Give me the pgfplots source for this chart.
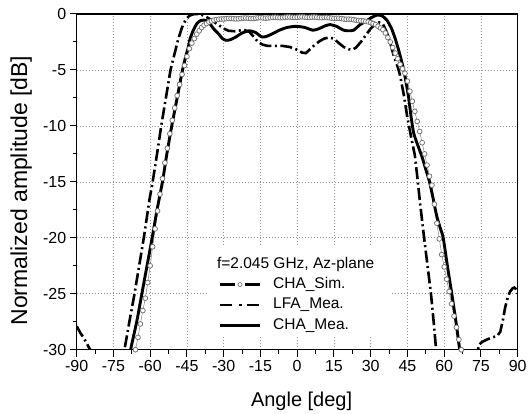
\documentclass[border=0pt]{standalone}
\usepackage{pgfplots}
\pgfplotsset{compat=1.18}
\usepackage{fontspec}
\setmainfont{Liberation Sans}
\begin{document}
\begin{tikzpicture}
\begin{axis}[
  scale only axis, width=441pt, height=335.7pt,
  xmin=-90, xmax=90, ymin=-30, ymax=0,
  xtick={-90,-75,...,90}, ytick={-30,-25,...,0},
  minor x tick num=1, minor y tick num=1,
  tick pos=left, tick align=outside,
  major tick length=7pt, minor tick length=4pt,
  tick style={black, line width=1pt},
  grid=major, grid style={dash pattern=on 1pt off 2pt, gray!85, line width=0.6pt},
  axis line style={black, line width=1.2pt},
  /pgf/number format/assume math mode=true,
  ticklabel style={font=\fontsize{16}{19}\selectfont},
  xlabel={Angle [deg]}, ylabel={Normalized amplitude [dB]},
  xlabel style={font=\fontsize{20}{24}\selectfont, at={(axis description cs:0.51,-0.168)}, anchor=base},
  ylabel style={font=\fontsize{23}{27}\selectfont, at={(axis description cs:-0.126,0.474)}, anchor=center},
  legend style={at={(axis cs:-32.1,-23.26)}, anchor=north west, draw=none, fill=none,
    inner sep=0pt, outer sep=0pt, row sep=0pt, column sep=11.7pt,
    font=\fontsize{15.5}{18}\selectfont,
    nodes={inner sep=0pt, text height=14pt, text depth=6.5pt}},
  legend cell align=left,
]
\coordinate (O) at (rel axis cs:0,0);
\fill[white] (axis cs:-36.3,-20.6) rectangle (axis cs:38.8,-28.7);

% CHA_Sim.
\addplot[black!50, line width=0.5pt, mark=*, mark size=2.4pt,
  mark options={fill=white, draw=black!55, line width=0.75pt},
  legend image code/.code={
    \draw[black, line width=2.6pt] (0pt,0pt) -- (15pt,0pt);
    \draw[black, line width=2.6pt] (25pt,0pt) -- (40pt,0pt);
    \draw[black!55, fill=white, line width=0.7pt] (20pt,0pt) circle (2pt);}]
table {
-66 -30.0
-65 -28.9
-64 -27.7
-63 -26.5
-62 -25.4
-61 -24.0
-60 -22.5
-59 -20.8
-58 -19.2
-57 -17.6
-56 -16.1
-55 -14.7
-54 -13.3
-53 -12.0
-52 -10.7
-51 -9.5
-50 -8.4
-49 -7.3
-48 -6.3
-47 -5.4
-46 -4.6
-45 -3.8
-44 -3.1
-43 -2.6
-42 -2.2
-41 -1.8
-40 -1.5
-39 -1.2
-38 -1.0
-37 -0.85
-36 -0.72
-35 -0.62
-34 -0.55
-33 -0.50
-32 -0.47
-31 -0.45
-30 -0.44
-29 -0.42
-28 -0.40
-27 -0.40
-26 -0.42
-25 -0.44
-24 -0.43
-23 -0.40
-22 -0.37
-21 -0.36
-20 -0.38
-19 -0.40
-18 -0.40
-17 -0.37
-16 -0.34
-15 -0.33
-14 -0.35
-13 -0.37
-12 -0.36
-11 -0.33
-10 -0.30
-9 -0.29
-8 -0.31
-7 -0.33
-6 -0.32
-5 -0.29
-4 -0.27
-3 -0.27
-2 -0.29
-1 -0.30
0 -0.29
1 -0.27
2 -0.26
3 -0.28
4 -0.30
5 -0.30
6 -0.28
7 -0.27
8 -0.29
9 -0.32
10 -0.33
11 -0.32
12 -0.31
13 -0.33
14 -0.37
15 -0.39
16 -0.38
17 -0.38
18 -0.41
19 -0.45
20 -0.47
21 -0.46
22 -0.47
23 -0.51
24 -0.55
25 -0.58
26 -0.60
27 -0.62
28 -0.66
29 -0.70
30 -0.76
31 -0.85
32 -0.95
33 -1.10
34 -1.25
35 -1.40
36 -1.70
37 -2.10
38 -2.50
39 -3.00
40 -3.50
41 -4.00
42 -4.50
43 -4.90
44 -5.30
45 -6.00
46 -6.90
47 -7.80
48 -8.70
49 -9.60
50 -10.5
51 -11.5
52 -12.5
53 -13.5
54 -14.5
55 -15.3
56 -17.0
57 -18.7
58 -20.1
59 -21.5
60 -22.6
61 -23.7
62 -24.8
63 -25.9
64 -27.0
65 -28.0
66 -29.1
67 -30.0
};
\addlegendentry{CHA\_Sim.}

% LFA_Mea.
\addplot[black, line width=2.6pt, dash pattern=on 12pt off 3.5pt on 2pt off 3.5pt,
  legend image code/.code={
    \draw[black, line width=2.6pt] (0pt,0pt) -- (13pt,0pt);
    \draw[black, line width=2.6pt] (19pt,0pt) -- (22pt,0pt);
    \draw[black, line width=2.6pt] (27pt,0pt) -- (40pt,0pt);}]
table {
-90 -27.9
-88.5 -28.5
-87 -29.0
-85.5 -29.6
-84.5 -30.0
-84 -31
-71 -31
-70.5 -30.0
-68.5 -27.5
-66.4 -25.0
-64.5 -22.5
-62.6 -20.0
-60.3 -16.6
-59 -15.0
-57.2 -12.5
-55.5 -10.0
-53.6 -7.5
-51.7 -5.0
-50 -3.5
-48.5 -2.2
-47 -1.2
-45.5 -0.5
-44 -0.15
-42 0
-40 0
-38 -0.15
-36 -0.4
-34 -0.7
-32 -1.0
-30 -1.3
-28 -1.5
-25 -1.55
-22 -1.4
-19.5 -1.6
-17.5 -2.1
-16 -2.5
-14 -2.75
-12 -2.85
-9 -2.85
-6 -2.85
-3 -2.95
0 -3.2
2 -3.45
3.5 -3.5
5 -3.2
7 -2.8
9 -2.45
11 -2.2
13 -2.1
15 -2.2
17 -2.6
19 -2.95
21 -3.15
22.5 -3.2
24 -3.0
26 -2.5
28 -1.9
30 -1.3
32 -0.9
33.5 -0.75
35 -0.9
36.5 -1.6
38 -2.6
39.5 -3.8
41 -4.7
42 -5.5
43.5 -7.2
45 -9.3
46.5 -11.0
48 -12.6
49 -14.5
50.2 -17.0
51.8 -20.0
53.2 -22.5
54.6 -25.0
55.7 -27.5
56.7 -30.0
57.2 -31
73.5 -31
74 -29.6
75.5 -29.3
77.4 -29.1
79.5 -28.9
81.5 -28.8
82.9 -28.4
84 -27.3
84.9 -26.2
86 -25.3
86.9 -24.8
88 -24.5
88.6 -24.45
89.3 -24.6
90 -25.0
};
\addlegendentry{LFA\_Mea.}

% CHA_Mea.
\addplot[black, line width=2.9pt, smooth, tension=0.4,
  legend image code/.code={
    \draw[black, line width=2.9pt] (0pt,0pt) -- (40pt,0pt);}]
table {
-68.5 -31
-68 -30.0
-65.5 -27.5
-63.4 -25.0
-61.3 -22.5
-59.2 -20.0
-57.2 -17.5
-55 -15.0
-53.2 -12.5
-51.2 -10.0
-49 -7.5
-46.8 -5.0
-45.5 -3.8
-44.5 -3.0
-43.7 -2.2
-42.3 -1.4
-40.9 -0.85
-39.5 -0.6
-38.2 -0.54
-37 -0.6
-35.5 -0.9
-34.2 -1.3
-32 -1.8
-30.5 -2.2
-29 -2.35
-27.3 -2.3
-25 -2.05
-22.5 -1.7
-19.5 -1.5
-17 -1.65
-14.5 -2.05
-12.5 -2.0
-10 -1.75
-7 -1.42
-4 -1.2
-0.5 -1.1
3 -1.2
6.5 -1.45
9 -1.3
11.5 -1.05
13.5 -0.95
16 -1.1
19 -1.45
21 -1.5
23 -1.45
25.7 -0.95
28.4 -0.6
30.5 -0.3
32.5 -0.1
34.5 -0.15
36.6 -0.55
38.5 -1.3
40 -2.2
41.5 -3.3
42.7 -4.3
43.5 -5.0
44.5 -6.2
45.5 -7.5
46.5 -9.2
47.5 -10.6
49 -11.6
51 -12.8
52.5 -13.9
54 -15.0
55.5 -16.5
57 -18.1
58.5 -19.2
59.6 -20.0
61.3 -22.5
63.1 -25.0
64.8 -27.5
66.3 -30.0
66.8 -31
};
\addlegendentry{CHA\_Mea.}

\node[anchor=base west, inner sep=0pt, font=\fontsize{15.5}{18}\selectfont] at (axis cs:-32.8,-22.7) {f=2.045 GHz, Az-plane};
\end{axis}
\pgfresetboundingbox
\path ([shift={(-76.7pt,-64.3pt)}]O) rectangle ([shift={(451.3pt,349.7pt)}]O);
\end{tikzpicture}
\end{document}
